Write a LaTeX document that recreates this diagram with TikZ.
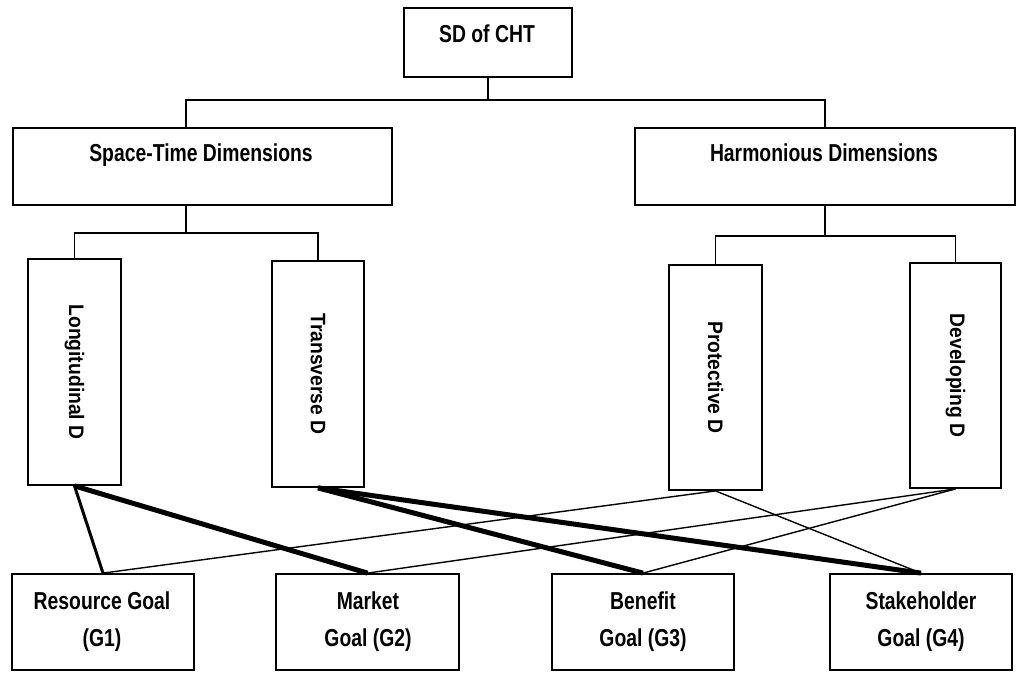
\documentclass[tikz,border=0pt]{standalone}
\usepackage{fontspec}
\setmainfont{Liberation Sans}
\newcommand\nw[1]{\scalebox{0.79}[1]{#1}}
\newcommand\vw[1]{\scalebox{0.92}[1]{#1}}
\begin{document}
\begin{tikzpicture}[x=1pt,y=-1pt,
  box/.style={draw, line width=1.8pt, inner sep=0pt, fill=white},
  htext/.style={font=\bfseries\fontsize{24.5}{28}\selectfont, anchor=base, inner sep=0pt},
  vtext/.style={font=\bfseries\fontsize{21}{24}\selectfont, rotate=-90, inner sep=0pt},
  tree/.style={line width=1.4pt},
  thinc/.style={line width=1.4pt},
  thickc/.style={line width=5pt},
  mediumc/.style={line width=3pt}]
\useasboundingbox (0,0) rectangle (1019,673);
% top level
\node[box, minimum width=168pt, minimum height=69pt] (sd) at (488,42.5) {};
\node[box, minimum width=379pt, minimum height=77pt] (st) at (202.5,166.5) {};
\node[box, minimum width=380pt, minimum height=77pt] (hm) at (825,166.5) {};
% dimension boxes
\node[box, minimum width=93pt, minimum height=226pt] (lo) at (74.5,372) {};
\node[box, minimum width=92pt, minimum height=226pt] (tr) at (318,374) {};
\node[box, minimum width=93pt, minimum height=225pt] (pr) at (715.5,377.5) {};
\node[box, minimum width=91pt, minimum height=225pt] (de) at (955.5,375.5) {};
% goal boxes
\node[box, minimum width=182pt, minimum height=96pt] (g1) at (103,622) {};
\node[box, minimum width=183pt, minimum height=96pt] (g2) at (367.5,622) {};
\node[box, minimum width=182pt, minimum height=96pt] (g3) at (643,622) {};
\node[box, minimum width=182pt, minimum height=96pt] (g4) at (921,622) {};
% texts
\node[htext] (sdt) at (487,42) {\nw{SD of CHT}};
\node[htext] (stt) at (201,161) {\nw{Space-Time Dimensions}};
\node[htext] (hmt) at (824,161) {\nw{Harmonious Dimensions}};
\node[vtext] (lot) at (lo.center) {\vw{Longitudinal D}};
\node[vtext] (trt) at (tr.center) {\vw{Transverse D}};
\node[vtext] (prt) at (pr.center) {\vw{Protective D}};
\node[vtext] (det) at (de.center) {\vw{Developing D}};
\node[htext] (g1a) at (102,609) {\nw{Resource Goal}};
\node[htext] (g1b) at (102,646) {\nw{(G1)}};
\node[htext] (g2a) at (368,609) {\nw{Market}};
\node[htext] (g2b) at (368,646) {\nw{Goal (G2)}};
\node[htext] (g3a) at (643,609) {\nw{Benefit}};
\node[htext] (g3b) at (643,646) {\nw{Goal (G3)}};
\node[htext] (g4a) at (921,609) {\nw{Stakeholder}};
\node[htext] (g4b) at (921,646) {\nw{Goal (G4)}};
% tree connectors
\coordinate (j0) at (488,100);
\coordinate (stin) at (186,128);
\coordinate (stout) at (186,205);
\coordinate (j1) at (186,233);
\coordinate (j2) at (825,236);
\draw[tree] (sd.south) -- (j0);
\draw[tree] (stin) |- (hm.north |- j0) -- (hm.north);
\draw[tree] (stout) -- (j1);
\draw[tree] (lo.north) |- (j1 -| tr.north) -- (tr.north);
\draw[tree] (hm.south) -- (j2);
\draw[tree] (pr.north) |- (j2 -| de.north) -- (de.north);
% goal connectors
\draw[mediumc] (lo.south) -- (g1.north);
\draw[thickc] (lo.south) -- (g2.north);
\draw[thickc] (tr.south) -- (g3.north);
\draw[thickc] (tr.south) -- (g4.north);
\draw[thinc] (pr.south) -- (g1.north);
\draw[thinc] (pr.south) -- (g4.north);
\draw[thinc] (de.south) -- (g2.north);
\draw[thinc] (de.south) -- (g3.north);
\end{tikzpicture}
\end{document}
